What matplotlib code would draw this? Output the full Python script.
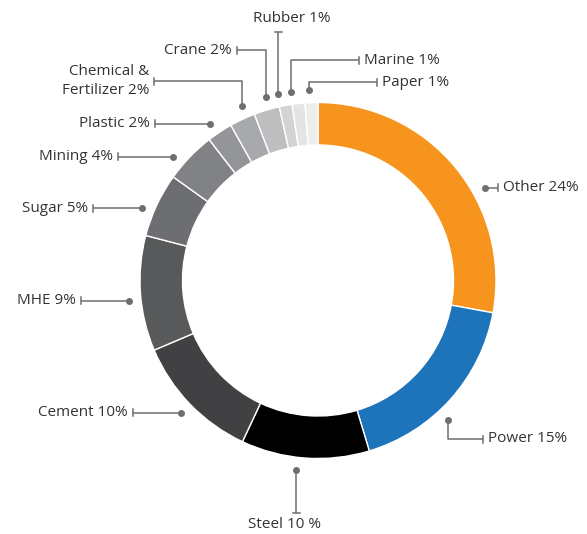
import numpy as np
import matplotlib.pyplot as plt

plt.rcParams['font.family'] = ['Open Sans', 'DejaVu Sans']

W, H = 587, 534
CX, CY, R = 318, 280.5, 178
RING = 42.5
DOT_R = 190.5

labels = ['Other 24%', 'Power 15%', 'Steel 10 %', 'Cement 10%', 'MHE 9%', 'Sugar 5%',
          'Mining 4%', 'Plastic 2%', 'Chemical &\nFertilizer 2%', 'Crane 2%',
          'Rubber 1%', 'Marine 1%', 'Paper 1%']
shares = [24, 15, 10, 10, 9, 5, 4, 2, 2, 2, 1, 1, 1]
colors = ['#F7941D', '#1D74BB', '#000000', '#414042', '#58595B', '#6D6E71', '#808285',
          '#939598', '#A7A9AC', '#BCBEC0', '#D1D3D4', '#E3E4E5', '#EDEDED']

# leader layout (pixels): dot angle nudge from wedge middle, then moves ('h', x) / ('v', y)
nudges = [-10.7, -5.2, -2.4, 0, 1.9, 2.9, 3.4, 1.2, -1.6, -1.0, 1.6, 1.9, 0.6]
routes = [
    [('h', 498)],
    [('v', 439), ('h', 483)],
    [('v', 513)],
    [('h', 133)],
    [('h', 81)],
    [('h', 93)],
    [('h', 118)],
    [('h', 155)],
    [('v', 81), ('h', 154)],
    [('v', 50), ('h', 237)],
    [('v', 32)],
    [('v', 60), ('h', 359)],
    [('v', 82), ('h', 377)],
]
# explicit label anchors for vertical-ending leaders
vlabel_pos = {2: (285, 525), 10: (292, 18)}

LINE_C = '#6D6E71'
TEXT_C = '#333335'
FS = 11

fig = plt.figure(figsize=(W / 100, H / 100), dpi=100)
ax = fig.add_axes([0, 0, 1, 1])

# y axis runs downward (pixel style), so go counterclockwise from -90 to look clockwise from top
wedges, _ = ax.pie(shares, colors=colors, startangle=-90, counterclock=True,
                   center=(CX, CY), radius=R,
                   wedgeprops=dict(width=RING, edgecolor='white', linewidth=1.0))

for i, w in enumerate(wedges):
    mid = (w.theta1 + w.theta2) / 2 - nudges[i]
    a = np.deg2rad(mid)
    x, y = CX + DOT_R * np.cos(a), CY + DOT_R * np.sin(a)
    xs, ys = [x], [y]
    for kind, v in routes[i]:
        if kind == 'h':
            x = v
        else:
            y = v
        xs.append(x)
        ys.append(y)
    ax.plot(xs, ys, color=LINE_C, lw=1.1, solid_capstyle='butt', zorder=3)
    ax.plot(xs[0], ys[0], 'o', color=LINE_C, ms=4, zorder=4)
    kind, _ = routes[i][-1]
    if kind == 'h':
        ax.plot([x, x], [y - 3.5, y + 3.5], color=LINE_C, lw=1.1, zorder=3)
        if xs[-1] > xs[-2]:
            ax.text(x + 5, y, labels[i], ha='left', va='center', fontsize=FS,
                    color=TEXT_C, linespacing=1.45)
        else:
            ax.text(x - 5, y, labels[i], ha='right', va='center', fontsize=FS,
                    color=TEXT_C, linespacing=1.45)
    else:
        ax.plot([x - 3.5, x + 3.5], [y, y], color=LINE_C, lw=1.1, zorder=3)
        lx, ly = vlabel_pos[i]
        ax.text(lx, ly, labels[i], ha='center', va='center', fontsize=FS, color=TEXT_C)

ax.set_xlim(0, W)
ax.set_ylim(H, 0)
ax.set_aspect('equal')
ax.set_axis_off()

fig.savefig('out.png', dpi=100, facecolor='white')
